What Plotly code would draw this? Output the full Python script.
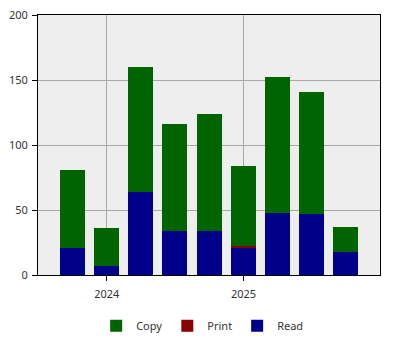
import plotly.graph_objects as go

dates = ["2023-10-01", "2024-01-01", "2024-04-01", "2024-07-01", "2024-10-01",
         "2025-01-01", "2025-04-01", "2025-07-01", "2025-10-01"]
read_vals = [21, 7, 64, 34, 34, 21, 48, 47, 18]
print_vals = [0, 0, 0, 0, 0, 1, 0, 0, 0]
copy_vals = [60, 29, 96, 82, 90, 62, 104, 94, 19]

bar_width_ms = 66.6 * 86400000

fig = go.Figure()
fig.add_trace(go.Bar(x=dates, y=read_vals, name="Read", marker_color="#00008B",
                     marker_line_width=0, width=bar_width_ms))
fig.add_trace(go.Bar(x=dates, y=print_vals, name="Print", marker_color="#8B0000",
                     marker_line_width=0, width=bar_width_ms))
fig.add_trace(go.Bar(x=dates, y=copy_vals, name="Copy", marker_color="#006400",
                     marker_line_width=0, width=bar_width_ms))

fig.update_layout(
    width=400, height=350,
    margin=dict(l=38, r=20, t=15, b=75, autoexpand=False),
    barmode="stack",
    paper_bgcolor="white",
    plot_bgcolor="#EEEEEE",
    font=dict(family="Noto Sans", size=11, color="#333333"),
    showlegend=True,
    legend=dict(orientation="h", x=0.48, xanchor="center",
                yref="container", y=0.069, yanchor="middle",
                traceorder="reversed", font=dict(size=11), itemwidth=30,
                bgcolor="rgba(0,0,0,0)"),
    xaxis=dict(
        type="date",
        range=["2023-07-01", "2026-01-01"],
        tickvals=["2024-01-01", "2025-01-01"],
        ticktext=["2024", "2025"],
        ticks="outside", ticklen=5, tickcolor="black",
        ticklabelstandoff=4,
        showgrid=True, gridcolor="#A8A8A8", gridwidth=1,
        showline=True, linecolor="black", linewidth=1, mirror=True,
        zeroline=False,
    ),
    yaxis=dict(
        range=[0, 200],
        tickvals=[0, 50, 100, 150, 200],
        ticks="outside", ticklen=5, tickcolor="black",
        ticklabelstandoff=2,
        showgrid=True, gridcolor="#A8A8A8", gridwidth=1,
        showline=True, linecolor="black", linewidth=1, mirror=True,
        zeroline=False,
    ),
)

fig.write_html("out.html")
